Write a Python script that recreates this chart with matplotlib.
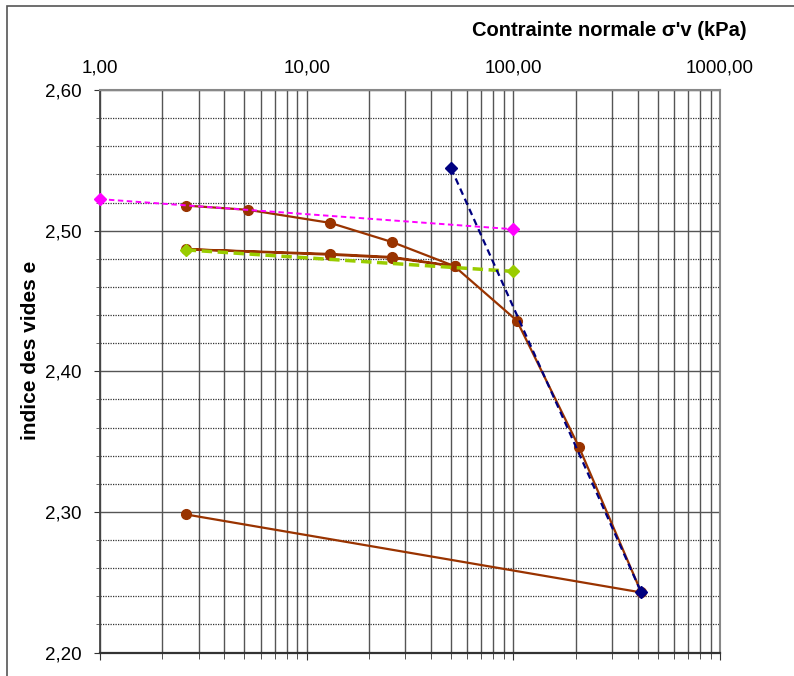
import matplotlib
matplotlib.use('Agg')
import matplotlib.pyplot as plt
from matplotlib.ticker import FixedLocator, MultipleLocator, FuncFormatter, NullFormatter
from matplotlib.patches import Rectangle

plt.rcParams['font.family'] = ['Liberation Sans', 'DejaVu Sans']

# Courbe oedometrique (chargement / dechargement / rechargement)
brown_x = [2.6, 5.2, 13, 26, 52, 26, 13, 2.6, 13, 26, 52, 104, 208, 416, 2.6]
brown_e = [2.5178, 2.5148, 2.5055, 2.4918, 2.4747, 2.4812, 2.4834, 2.4868,
           2.4829, 2.4807, 2.4745, 2.4360, 2.3460, 2.2427, 2.2982]

# Droites de construction
pink_x = [1, 100]
pink_e = [2.5224, 2.5010]
green_x = [2.6, 100]
green_e = [2.4863, 2.4710]
navy_x = [50, 416]
navy_e = [2.5443, 2.2427]

x_ticks = [1, 10, 100, 1000]
x_labels = ['1,00', '10,00', '100,00', '1000,00']

W, H = 794, 676
fig = plt.figure(figsize=(W / 100, H / 100), dpi=100)
ax = fig.add_axes([100 / W, 1 - 652.5 / H, 620 / W, 562.5 / H])

ax.plot(brown_x, brown_e, color='#993300', lw=1.6, marker='o', ms=7,
        mec='#993300', mfc='#993300', zorder=3)
ax.plot(green_x, green_e, color='#99CC00', lw=2.5, ls=(0, (3, 1.6)),
        marker='D', ms=6.5, mfc='#99CC00', mec='#99CC00', zorder=4)
ax.plot(pink_x, pink_e, color='#FF00FF', lw=1.4, ls=(0, (2.8, 1.8)),
        marker='D', ms=6.5, mfc='#FF00FF', mec='#FF00FF', zorder=5,
        clip_on=False)
ax.plot(navy_x, navy_e, color='#000080', lw=1.6, ls=(0, (3, 2)),
        marker='D', ms=6.5, mfc='#000080', mec='#000080', zorder=6)

ax.set_xscale('log')
ax.set_xlim(1, 1000)
ax.set_ylim(2.20, 2.60)

ax.xaxis.set_major_locator(FixedLocator(x_ticks))
ax.xaxis.set_major_formatter(FuncFormatter(lambda v, p: x_labels[x_ticks.index(round(v))] if round(v) in x_ticks else ''))
ax.xaxis.set_minor_formatter(NullFormatter())
ax.yaxis.set_major_locator(MultipleLocator(0.1))
ax.yaxis.set_minor_locator(MultipleLocator(0.02))
ax.yaxis.set_major_formatter(FuncFormatter(lambda v, p: f'{v:.2f}'.replace('.', ',')))

ax.tick_params(axis='x', which='both', bottom=True, top=False,
               labelbottom=False, labeltop=True, direction='out',
               color='#333333')
ax.tick_params(axis='x', which='major', length=5, pad=5, labelsize=13.5)
ax.tick_params(axis='x', which='minor', length=4)
ax.tick_params(axis='y', which='major', length=4, labelsize=13.5, pad=9,
               color='#333333')
ax.tick_params(axis='y', which='minor', length=3, color='#555555')

ax.grid(True, axis='x', which='both', color='#555555', lw=1.0, ls='-')
ax.grid(True, axis='y', which='major', color='#555555', lw=1.0, ls='-')
ax.grid(True, axis='y', which='minor', color='#333333', lw=0.9, ls=(0, (1, 1)))
ax.set_axisbelow(True)

for side in ['top', 'right']:
    ax.spines[side].set_color('#888888')
    ax.spines[side].set_linewidth(1.5)
ax.spines['left'].set_color('#444444')
ax.spines['left'].set_linewidth(1.3)
ax.spines['bottom'].set_color('#333333')
ax.spines['bottom'].set_linewidth(1.6)

fig.text(609 / W, 1 - 31 / H, "Contrainte normale σ'v (kPa)", ha='center',
         va='center', fontsize=14.5, fontweight='bold')
fig.text(30 / W, 1 - 350 / H, 'indice des vides e', ha='center', va='center',
         rotation=90, fontsize=15, fontweight='bold')

# cadre de la zone de graphique
fig.patches.append(Rectangle((7 / W, -0.05), 1.0, 1 - 6 / H + 0.05,
                             transform=fig.transFigure, fill=False,
                             edgecolor='#555555', lw=1.2))

fig.savefig('out.png', dpi=100)
